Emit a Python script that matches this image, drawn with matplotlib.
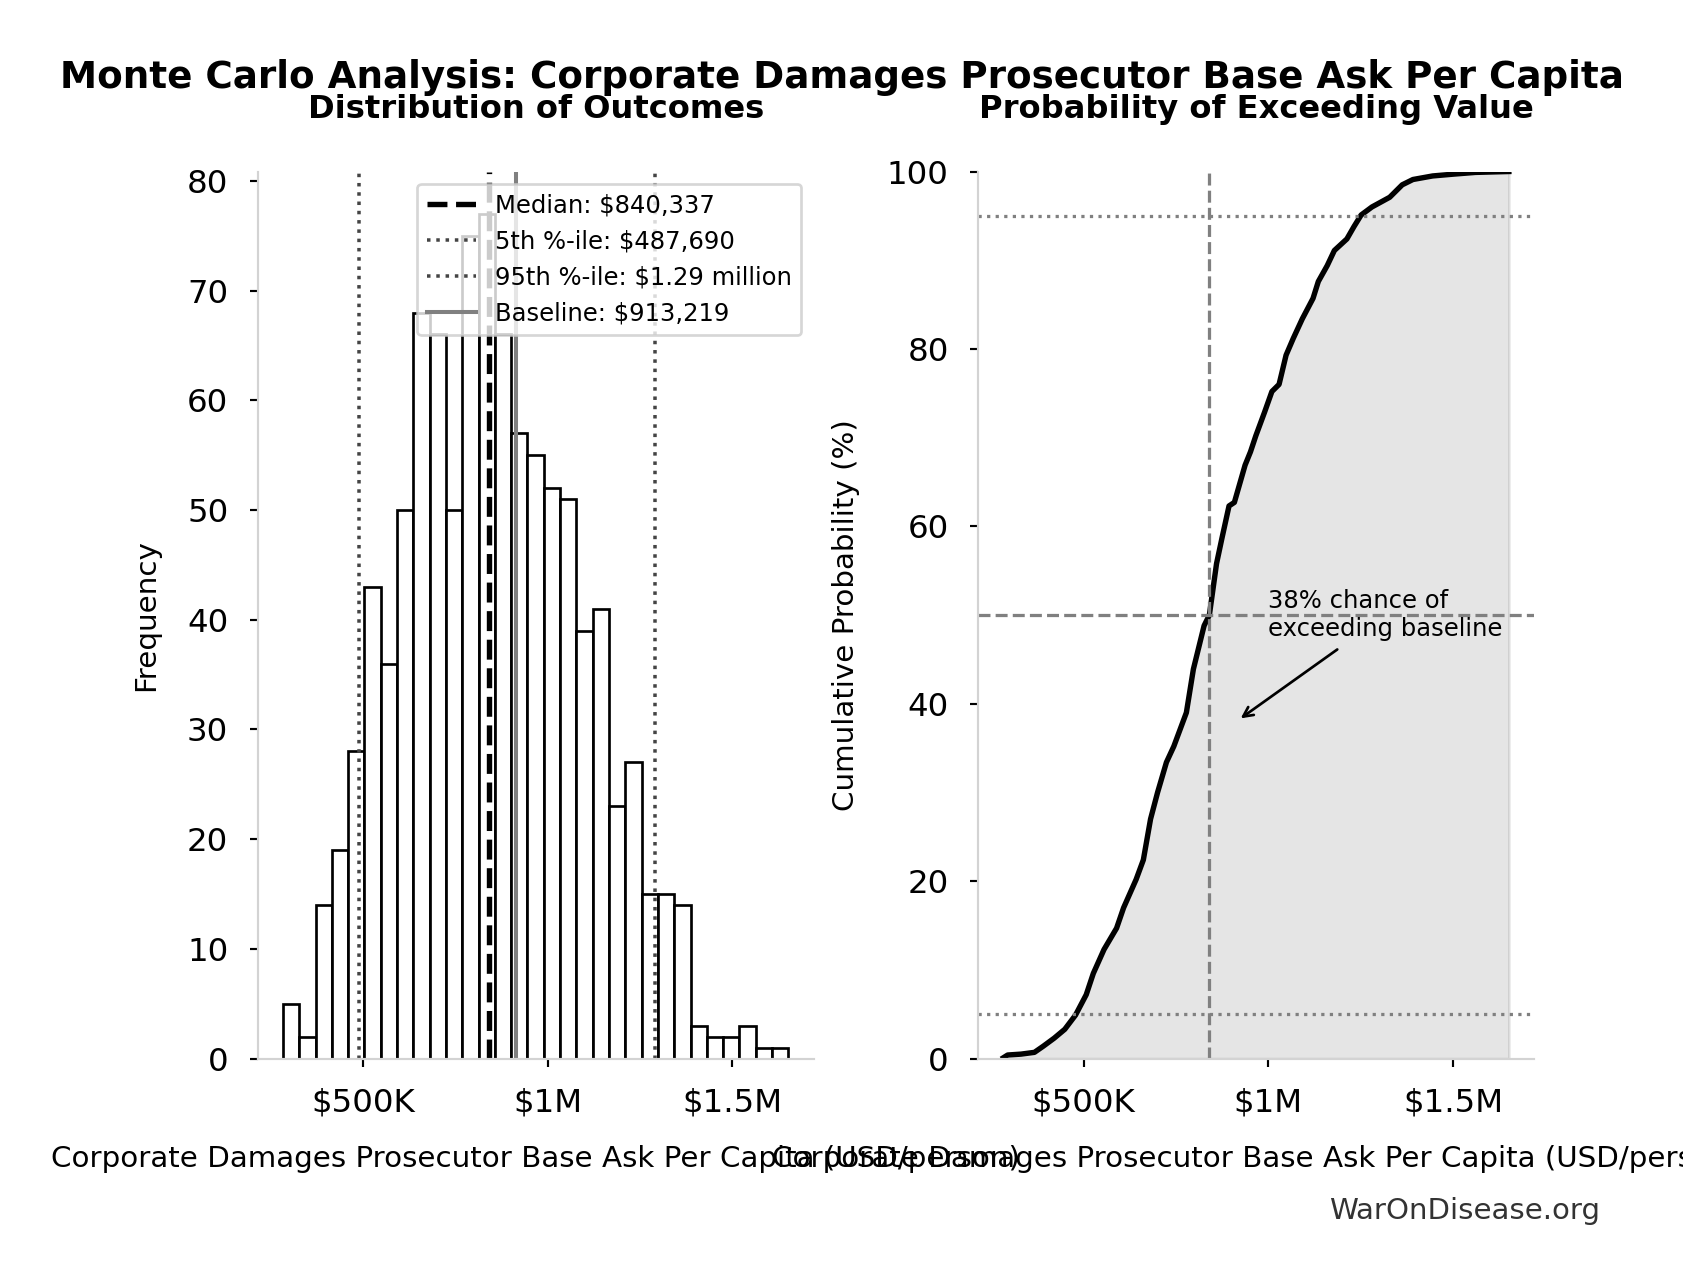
import numpy as np
import matplotlib
matplotlib.use("Agg")
import matplotlib.pyplot as plt
from matplotlib.ticker import FuncFormatter

# histogram (31 equal bins)
bin_start = 282600
bin_end = 1651300
counts = [5, 2, 14, 19, 28, 43, 36, 50, 68, 66, 50, 75, 77, 66, 57, 55,
          52, 51, 39, 41, 23, 27, 15, 15, 14, 3, 2, 2, 3, 1, 1]

# summary values
median = 840337
p5 = 487690
p95 = 1290000
baseline = 913219

# cumulative curve
cdf_x = [282600, 294000, 330000, 366500, 390700, 420000, 448700, 477800,
         506800, 526000, 555000, 589000, 608000, 642000, 661500, 681000,
         700000, 724000, 744000, 778000, 797000, 826000, 840300, 845000,
         859700, 874000, 893500, 908000, 937000, 951600, 966000, 990000,
         1009600, 1029000, 1048000, 1067600, 1092000, 1121000, 1135300,
         1159500, 1178800, 1212700, 1232000, 1251300, 1280400, 1328700,
         1362500, 1391600, 1444800, 1500000, 1560800, 1651300]
cdf_pct = [0.1, 0.4, 0.5, 0.7, 1.4, 2.3, 3.3, 4.9, 7.2, 9.6, 12.3, 14.7,
           17.0, 20.2, 22.4, 27.0, 30.0, 33.4, 35.2, 39.0, 43.9, 48.8, 50.0,
           51.4, 55.8, 58.6, 62.3, 62.7, 66.9, 68.4, 70.2, 72.9, 75.2, 76.0,
           79.3, 81.2, 83.4, 85.7, 87.6, 89.4, 91.1, 92.4, 93.8, 95.1, 96.0,
           97.1, 98.5, 99.1, 99.5, 99.7, 99.9, 100.0]

xlab = "Corporate Damages Prosecutor Base Ask Per Capita (USD/person)"


def money(v, pos):
    if v >= 1e6:
        return f"${v/1e6:g}M"
    return f"${v/1e3:.0f}K"


dpi = 194
fig, (ax1, ax2) = plt.subplots(1, 2, figsize=(1684 / dpi, 1280 / dpi), dpi=dpi)
fig.subplots_adjust(left=0.153, right=0.911, bottom=0.173, top=0.866, wspace=0.296)

# --- left: histogram
edges = np.linspace(bin_start, bin_end, len(counts) + 1)
centers = (edges[:-1] + edges[1:]) / 2
ax1.hist(centers, bins=edges, weights=counts, facecolor="white",
         edgecolor="black", linewidth=1.0)
ax1.axvline(median, color="black", ls="--", lw=2, label=f"Median: ${median:,}")
ax1.axvline(p5, color="#444444", ls=":", lw=1.3, label=f"5th %-ile: ${p5:,}")
ax1.axvline(p95, color="#444444", ls=":", lw=1.3,
            label=f"95th %-ile: ${p95/1e6:.2f} million")
ax1.axvline(baseline, color="gray", ls="-", lw=1.5, label=f"Baseline: ${baseline:,}")
ax1.legend(loc="upper right", fontsize=9)
ax1.set_title("Distribution of Outcomes", fontsize=11.95, fontweight="bold", pad=19.7)
ax1.set_ylabel("Frequency", fontsize=10.9, labelpad=10)
ax1.set_xlabel(xlab, fontsize=10.9, labelpad=9.5)

# --- right: cumulative probability
ax2.plot(cdf_x, cdf_pct, color="black", lw=2)
ax2.fill_between(cdf_x, cdf_pct, color="gray", alpha=0.2)
ax2.axhline(50, color="gray", ls="--", lw=1.2)
ax2.axvline(median, color="gray", ls="--", lw=1.2)
ax2.axhline(5, color="gray", ls=":", lw=1.2)
ax2.axhline(95, color="gray", ls=":", lw=1.2)
ax2.annotate("38% chance of\nexceeding baseline", xy=(baseline, 38),
             xytext=(1.0e6, 50), va="center", fontsize=9,
             arrowprops=dict(arrowstyle="->", color="black", lw=1))
ax2.set_ylim(0, 100)
ax2.set_title("Probability of Exceeding Value", fontsize=11.95, fontweight="bold", pad=19.7)
ax2.set_ylabel("Cumulative Probability (%)", fontsize=10.9, labelpad=10)
ax2.set_xlabel(xlab, fontsize=10.9, labelpad=9.5)

for ax in (ax1, ax2):
    ax.set_xticks([500000, 1000000, 1500000])
    ax.xaxis.set_major_formatter(FuncFormatter(money))
    for s in ("top", "right"):
        ax.spines[s].set_visible(False)
    for s in ("left", "bottom"):
        ax.spines[s].set_color("lightgray")
    ax.tick_params(labelsize=12, length=2.9, pad=8)

fig.suptitle("Monte Carlo Analysis: Corporate Damages Prosecutor Base Ask Per Capita",
             fontsize=13.85, fontweight="bold", y=1 - 88 / 1280, va="baseline")
fig.text(0.95, 1 - 1219 / 1280, "WarOnDisease.org", ha="right", va="baseline",
         fontsize=10.85, color="#333333")

fig.savefig("out.png", dpi=dpi)
